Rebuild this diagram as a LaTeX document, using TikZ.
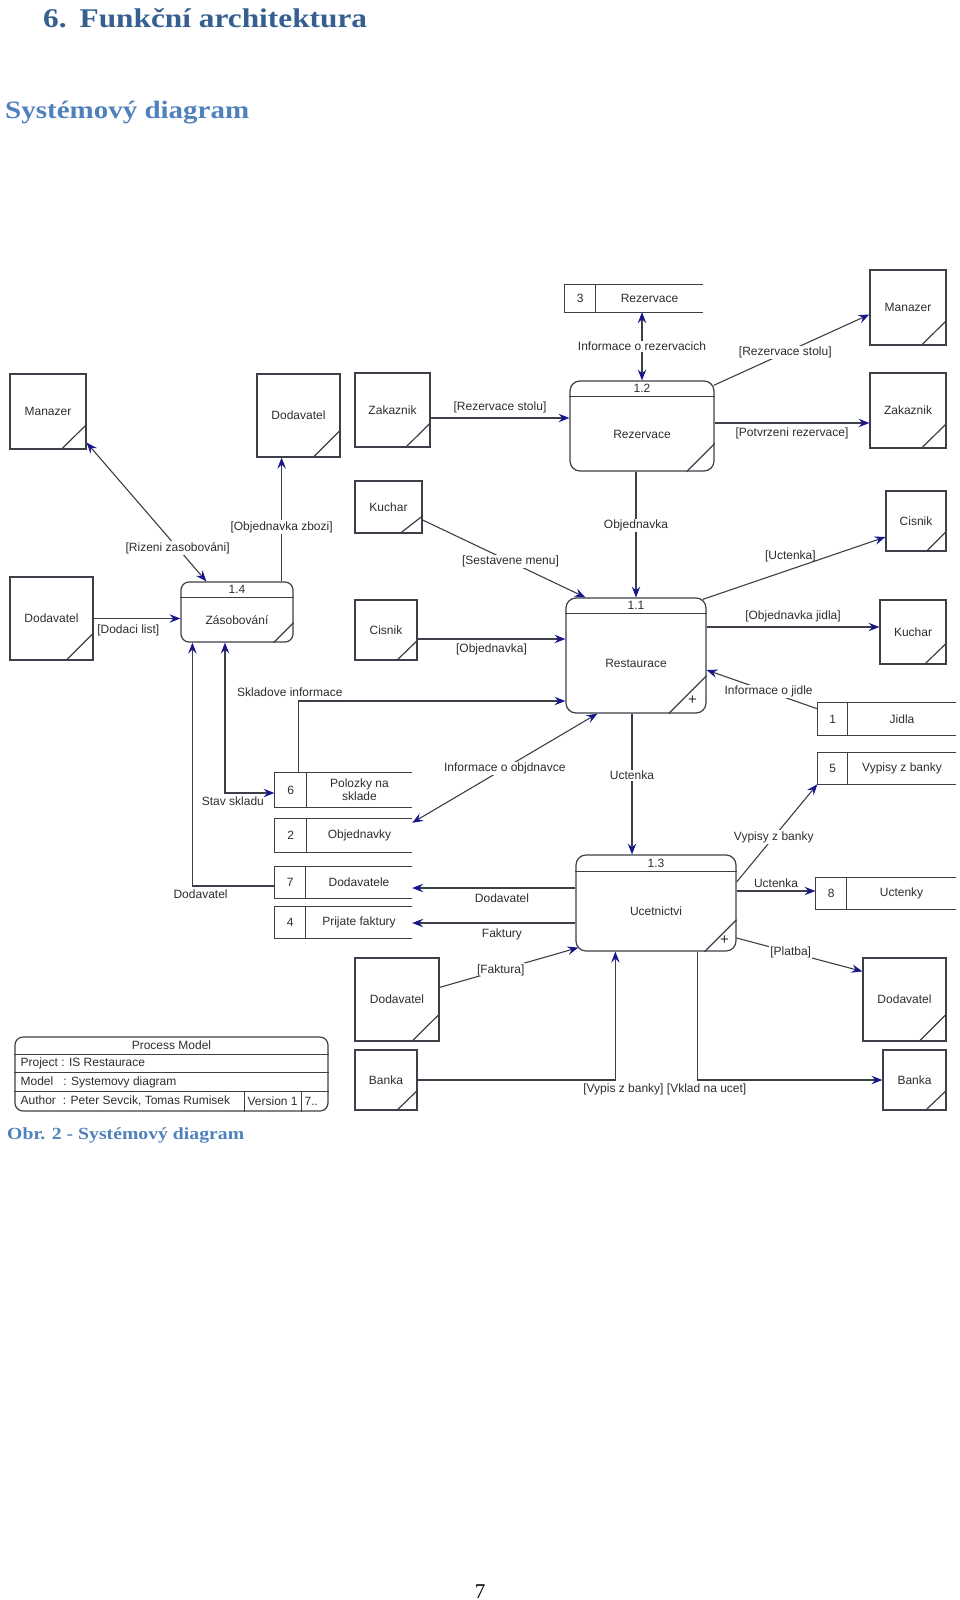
\documentclass[tikz,border=0pt]{standalone}
\usepackage{fontspec}
\setmainfont{Liberation Serif}
\setsansfont{Liberation Sans}
\newfontfamily\headfont[FakeStretch=1.16]{Liberation Serif}
\usetikzlibrary{positioning, arrows.meta, calc}

\definecolor{headblue}{RGB}{54,95,145}
\definecolor{subblue}{RGB}{79,129,189}
\definecolor{linegray}{RGB}{62,62,72}
\definecolor{tipblue}{RGB}{24,24,140}
\definecolor{txtgray}{RGB}{45,45,45}

\begin{document}
\begin{tikzpicture}[
    x=1pt, y=-1pt,
    font=\sffamily\fontsize{12}{14}\selectfont,
    >={Stealth[length=11pt, width=8.5pt, inset=4pt, color=tipblue]},
    % Styles
    entity/.style={
        draw=linegray, line width=1.2pt, rectangle, inner sep=0pt, text=txtgray,
        path picture={\draw[linegray, line width=1.2pt]
            ($(path picture bounding box.south east)!0.32!(path picture bounding box.south west)$) --
            ($(path picture bounding box.south east)!0.32!(path picture bounding box.north east)$);}
    },
    process/.style={draw=linegray, line width=1.2pt, rectangle, rounded corners=10pt, inner sep=0pt},
    store/.style={rectangle, inner sep=0pt, text=txtgray, align=center},
    edge/.style={draw=linegray, line width=1.2pt},
    flow/.style={->, draw=linegray, line width=1.1pt},
    biflow/.style={<->, draw=linegray, line width=1.1pt},
    lbl/.style={text=txtgray, inner sep=1pt},
    onlbl/.style={lbl, fill=white},
    head/.style={anchor=base west, inner sep=0pt, font=\headfont\bfseries\fontsize{27}{30}\selectfont}
]
    \useasboundingbox (0,0) rectangle (960,1600);

    % --- HEADINGS ---
    \node[head, text=headblue] (title) at (43,28) {6.\hspace{13pt}Funkční architektura};
    \node[head, text=subblue, font=\headfont\bfseries\fontsize{25}{28}\selectfont] (subtitle) at (5,118) {Systémový diagram};

    % --- PROCESSES ---
    % 1.2 Rezervace
    \node[process, minimum width=144, minimum height=90] (rez) at (642,426) {};
    \draw[edge] ([yshift=-16pt]rez.north west) -- ([yshift=-16pt]rez.north east);
    \node[lbl] (rezNum) at ([yshift=-8pt]rez.north) {1.2};
    \node[lbl] (rezName) at ([yshift=-8pt]rez.center) {Rezervace};
    \draw[edge] ([xshift=-28pt]rez.south east) -- ([yshift=28pt]rez.south east);

    % 1.1 Restaurace
    \node[process, minimum width=140, minimum height=115] (res) at (636,655.5) {};
    \draw[edge] ([yshift=-16pt]res.north west) -- ([yshift=-16pt]res.north east);
    \node[lbl] (resNum) at ([yshift=-8pt]res.north) {1.1};
    \node[lbl] (resName) at ([yshift=-8pt]res.center) {Restaurace};
    \draw[edge] ([xshift=-38pt]res.south east) -- ([yshift=38pt]res.south east);
    \node[lbl, font=\sffamily\fontsize{15}{15}\selectfont] (resPlus) at ([xshift=-14pt, yshift=13pt]res.south east) {+};

    % 1.3 Ucetnictvi
    \node[process, minimum width=160, minimum height=96] (uce) at (656,903) {};
    \draw[edge] ([yshift=-17pt]uce.north west) -- ([yshift=-17pt]uce.north east);
    \node[lbl] (uceNum) at ([yshift=-8.5pt]uce.north) {1.3};
    \node[lbl] (uceName) at ([yshift=-8.5pt]uce.center) {Ucetnictvi};
    \draw[edge] ([xshift=-32pt]uce.south east) -- ([yshift=32pt]uce.south east);
    \node[lbl, font=\sffamily\fontsize{15}{15}\selectfont] (ucePlus) at ([xshift=-12pt, yshift=11pt]uce.south east) {+};

    % 1.4 Zasobovani
    \node[process, minimum width=112, minimum height=60, rounded corners=8pt] (zas) at (237,612) {};
    \draw[edge] ([yshift=-16pt]zas.north west) -- ([yshift=-16pt]zas.north east);
    \node[lbl] (zasNum) at ([yshift=-8pt]zas.north) {1.4};
    \node[lbl] (zasName) at ([yshift=-8pt]zas.center) {Zásobování};
    \draw[edge] ([xshift=-20pt]zas.south east) -- ([yshift=20pt]zas.south east);

    % --- EXTERNAL ENTITIES ---
    \node[entity, minimum width=76, minimum height=75] (manR) at (908,307.5) {Manazer};
    \node[entity, minimum width=76, minimum height=75] (zakR) at (908,410.5) {Zakaznik};
    \node[entity, minimum width=75, minimum height=74] (zakL) at (392.5,410) {Zakaznik};
    \node[entity, minimum width=83, minimum height=83] (dodT) at (298.5,415.5) {Dodavatel};
    \node[entity, minimum width=76, minimum height=75] (manL) at (48,411.5) {Manazer};
    \node[entity, minimum width=67, minimum height=52] (kuchL) at (388.5,507) {Kuchar};
    \node[entity, minimum width=60, minimum height=60] (cisR) at (916,521) {Cisnik};
    \node[entity, minimum width=83, minimum height=83] (dodL) at (51.5,618.5) {Dodavatel};
    \node[entity, minimum width=62, minimum height=60] (cisL) at (386,630) {Cisnik};
    \node[entity, minimum width=66, minimum height=64] (kuchR) at (913,632) {Kuchar};
    \node[entity, minimum width=84, minimum height=83] (dodB) at (397,999.5) {Dodavatel};
    \node[entity, minimum width=83, minimum height=83] (dodBR) at (904.5,999.5) {Dodavatel};
    \node[entity, minimum width=62, minimum height=60] (bankL) at (386,1080) {Banka};
    \node[entity, minimum width=63, minimum height=60] (bankR) at (914.5,1080) {Banka};

    % --- DATA STORES ---
    \node[store, minimum width=107, minimum height=27] (st3) at (649.5,298.5) {Rezervace};
    \node[store, minimum width=31, minimum height=27, left=0pt of st3] (st3n) {3};
    \node[store, minimum width=108, minimum height=32] (st1) at (902,719) {Jidla};
    \node[store, minimum width=30, minimum height=32, left=0pt of st1] (st1n) {1};
    \node[store, minimum width=108, minimum height=31] (st5) at (902,768.5) {Vypisy z banky};
    \node[store, minimum width=30, minimum height=31, left=0pt of st5] (st5n) {5};
    \node[store, minimum width=109, minimum height=31] (st8) at (901.5,893.5) {Uctenky};
    \node[store, minimum width=31, minimum height=31, left=0pt of st8] (st8n) {8};
    \node[store, minimum width=105, minimum height=34] (st6) at (359.5,790) {Polozky na\\[-1pt]sklade};
    \node[store, minimum width=32, minimum height=34, left=0pt of st6] (st6n) {6};
    \node[store, minimum width=105, minimum height=33] (st2) at (359.5,835.5) {Objednavky};
    \node[store, minimum width=32, minimum height=33, left=0pt of st2] (st2n) {2};
    \node[store, minimum width=106, minimum height=31] (st7) at (359,882.5) {Dodavatele};
    \node[store, minimum width=31, minimum height=31, left=0pt of st7] (st7n) {7};
    \node[store, minimum width=106, minimum height=31] (st4) at (359,922.5) {Prijate faktury};
    \node[store, minimum width=31, minimum height=31, left=0pt of st4] (st4n) {4};

    % open-ended store outlines
    \draw[edge] (st3.north east) -- (st3n.north west) -- (st3n.south west) -- (st3.south east);
    \draw[edge] (st3n.north east) -- (st3n.south east);
    \draw[edge] (st1.north east) -- (st1n.north west) -- (st1n.south west) -- (st1.south east);
    \draw[edge] (st1n.north east) -- (st1n.south east);
    \draw[edge] (st5.north east) -- (st5n.north west) -- (st5n.south west) -- (st5.south east);
    \draw[edge] (st5n.north east) -- (st5n.south east);
    \draw[edge] (st8.north east) -- (st8n.north west) -- (st8n.south west) -- (st8.south east);
    \draw[edge] (st8n.north east) -- (st8n.south east);
    \draw[edge] (st6.north east) -- (st6n.north west) -- (st6n.south west) -- (st6.south east);
    \draw[edge] (st6n.north east) -- (st6n.south east);
    \draw[edge] (st2.north east) -- (st2n.north west) -- (st2n.south west) -- (st2.south east);
    \draw[edge] (st2n.north east) -- (st2n.south east);
    \draw[edge] (st7.north east) -- (st7n.north west) -- (st7n.south west) -- (st7.south east);
    \draw[edge] (st7n.north east) -- (st7n.south east);
    \draw[edge] (st4.north east) -- (st4n.north west) -- (st4n.south west) -- (st4.south east);
    \draw[edge] (st4n.north east) -- (st4n.south east);

    % --- FLOWS ---
    % around 1.2
    \draw[biflow] (rez.north |- st3.south) -- (rez.north) node[onlbl, midway] (lInfoRez) {Informace o rezervacich};
    \draw[flow] ([xshift=-1pt, yshift=-5pt]rez.north east) -- ([yshift=-7pt]manR.west) node[onlbl, pos=0.46] (lRezStoluM) {[Rezervace stolu]};
    \coordinate (rezE) at ([yshift=3pt]rez.east);
    \draw[flow] (rezE) -- (rezE -| zakR.west) node[lbl, midway, below=3pt] (lPotvrzeni) {[Potvrzeni rezervace]};
    \coordinate (zakLE) at ([yshift=-8pt]zakL.east);
    \draw[flow] (zakLE) -- (zakLE -| rez.west) node[lbl, midway, above=3pt] (lRezStoluZ) {[Rezervace stolu]};
    \draw[flow] (res.north |- rez.south) -- (res.north) node[onlbl, pos=0.43] (lObjednavka) {Objednavka};

    % around 1.1
    \draw[flow] ([yshift=-13pt]kuchL.east) -- ([xshift=20pt]res.north west) node[onlbl, pos=0.54] (lMenu) {[Sestavene menu]};
    \coordinate (cisLE) at ([yshift=-9pt]cisL.east);
    \draw[flow] (cisLE) -- (cisLE -| res.west) node[lbl, midway, below=3pt] (lObjCis) {[Objednavka]};
    \draw[flow] ([xshift=-4pt, yshift=-2pt]res.north east) -- ([yshift=-16pt]cisR.west) node[lbl, pos=0.48, above=6pt] (lUctCis) {[Uctenka]};
    \coordinate (resE) at ([yshift=28.5pt]res.east);
    \draw[flow] (resE) -- (resE -| kuchR.west) node[lbl, midway, above=3pt] (lObjJidla) {[Objednavka jidla]};
    \draw[flow] ([yshift=-6pt]st1n.north west) -- ([yshift=-14.5pt]res.east) node[onlbl, pos=0.44] (lInfoJidle) {Informace o jidle};
    \draw[flow] ([xshift=-8pt]st6n.north east) |- ([yshift=-45.5pt]res.west) node[lbl, pos=0.5, above=3pt, xshift=-9pt] (lSklad) {Skladove informace};
    \draw[biflow] ([xshift=32pt]res.south west) -- ([yshift=-4pt]st2.north east) node[onlbl, midway] (lInfoObj) {Informace o objdnavce};
    \coordinate (resS) at ([xshift=-4pt]res.south);
    \draw[flow] (resS) -- (resS |- uce.north) node[onlbl, pos=0.44] (lUctenka) {Uctenka};

    % around 1.4
    \draw[biflow] ([yshift=7pt]manL.south east) -- ([xshift=26pt]zas.north west) node[onlbl, pos=0.76] (lRizeni) {[Rizeni zasobováni]};
    \coordinate (zasN) at ([xshift=-12pt]zas.north east);
    \draw[flow] (zasN) -- (zasN |- dodT.south) node[onlbl, pos=0.44] (lObjZbozi) {[Objednavka zbozi]};
    \draw[flow] (dodL.east) -- (dodL.east -| zas.west) node[lbl, pos=0.4, below=5pt] (lDodaci) {[Dodaci list]};
    \draw[biflow] ([xshift=-12pt]zas.south) |- ([yshift=-3pt]st6n.west) node[lbl, pos=0.58, below=2pt] (lStav) {Stav skladu};
    \draw[flow] ([yshift=-3.5pt]st7n.west) -| ([xshift=12pt]zas.south west) node[lbl, pos=0.45, below=2pt] (lDodStore) {Dodavatel};

    % around 1.3
    \coordinate (uceW1) at ([yshift=15pt]uce.west);
    \draw[flow] (uceW1) -- (uceW1 -| st7.east) node[lbl, pos=0.45, below=4pt] (lDodUce) {Dodavatel};
    \coordinate (uceW2) at ([yshift=-20pt]uce.west);
    \draw[flow] (uceW2) -- (uceW2 -| st4.east) node[lbl, pos=0.45, below=4pt] (lFaktury) {Faktury};
    \draw[flow] ([yshift=21pt]uce.east) -- (st5n.south west) node[onlbl, pos=0.46] (lVypisy) {Vypisy z banky};
    \coordinate (uceE) at ([yshift=12pt]uce.east);
    \draw[flow] (uceE) -- (uceE -| st8n.west) node[lbl, midway, above=2pt] (lUctUce) {Uctenka};
    \draw[flow] ([yshift=-35pt]uce.east) -- ([yshift=-14pt]dodBR.north west) node[onlbl, pos=0.43] (lPlatba) {[Platba]};
    \draw[flow] ([yshift=-30pt]dodB.north east) -- ([xshift=3pt, yshift=4pt]uce.south west) node[onlbl, pos=0.44] (lFaktura) {[Faktura]};
    \coordinate (uceS1) at ([xshift=40pt]uce.south west);
    \draw[flow] (bankL.east) -| (uceS1) node[lbl, pos=0.5, below=2pt, xshift=8pt] (lVypis) {[Vypis z banky]};
    \coordinate (uceS2) at ([xshift=-39pt]uce.south east);
    \draw[flow] (uceS2) |- (bankR.west) node[lbl, pos=0.5, below=2pt, xshift=9pt] (lVklad) {[Vklad na ucet]};

    % --- TITLE BLOCK ---
    \node[draw=linegray, line width=1.2pt, rounded corners=8pt, minimum width=313, minimum height=74, inner sep=0pt] (pm) at (171.5,1074) {};
    \draw[edge] ([yshift=-18pt]pm.north west) -- ([yshift=-18pt]pm.north east);
    \draw[edge] ([yshift=-36pt]pm.north west) -- ([yshift=-36pt]pm.north east);
    \draw[edge] ([yshift=-55pt]pm.north west) -- ([yshift=-55pt]pm.north east);
    \draw[edge] ([xshift=230pt, yshift=-55pt]pm.north west) -- ([xshift=230pt]pm.south west);
    \draw[edge] ([xshift=287pt, yshift=-55pt]pm.north west) -- ([xshift=287pt]pm.south west);
    \node[lbl] (pmHead) at ([yshift=-9pt]pm.north) {Process Model};
    \node[lbl, anchor=west] (pmProj) at ([xshift=5pt, yshift=-27pt]pm.north west) {Project : IS Restaurace};
    \node[lbl, anchor=west] (pmModel) at ([xshift=5pt, yshift=-45.5pt]pm.north west) {Model\hspace{10pt}: Systemovy diagram};
    \node[lbl, anchor=west] (pmAuth) at ([xshift=5pt, yshift=-64.5pt]pm.north west) {Author\hspace{7pt}: Peter Sevcik, Tomas Rumisek};
    \node[lbl, anchor=west] (pmVer) at ([xshift=232pt, yshift=-64.5pt]pm.north west) {Version 1};
    \node[lbl, anchor=west] (pmPage) at ([xshift=289pt, yshift=-64.5pt]pm.north west) {7..};

    % --- CAPTION & PAGE ---
    \node[head, text=subblue, font=\headfont\bfseries\fontsize{17}{20}\selectfont] (caption) at (7,1139) {Obr. 2 - Systémový diagram};
    \node[anchor=base, inner sep=0pt, font=\rmfamily\fontsize{21}{24}\selectfont] (pageno) at (480,1598) {7};

\end{tikzpicture}
\end{document}
